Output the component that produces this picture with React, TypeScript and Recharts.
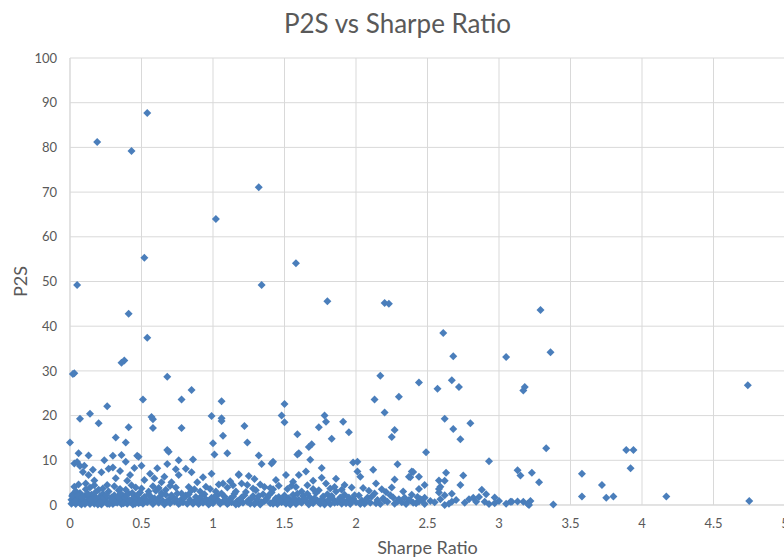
import React from 'react';
import { ScatterChart, Scatter, XAxis, YAxis, CartesianGrid } from 'recharts';

// [sharpe ratio, p2s] pairs, grouped by height band
const upperPoints: [number, number][] = [
  [0.19, 81.2], [0.43, 79.2], [0.54, 87.7], [1.02, 64.0], [1.32, 71.1], [0.05, 49.2], [0.52, 55.3],
  [1.34, 49.2], [1.58, 54.1], [1.8, 45.6], [2.2, 45.2], [2.23, 45.0], [0.41, 42.8], [0.54, 37.4],
  [0.36, 31.8], [0.38, 32.3], [0.03, 29.5], [0.02, 29.3], [0.68, 28.7], [0.85, 25.7], [2.17, 28.9],
  [3.29, 43.6], [2.61, 38.5], [2.68, 33.3], [3.05, 33.1], [3.36, 34.2], [2.44, 27.4], [2.57, 26.0],
  [2.67, 27.9], [2.72, 26.4], [3.17, 25.6], [3.18, 26.4], [4.74, 26.8],
];

const midPoints: [number, number][] = [
  [0.51, 23.6], [0.78, 23.6], [1.06, 23.2], [2.13, 23.6], [2.3, 24.2], [0.26, 22.1], [1.5, 22.6],
  [0.14, 20.4], [0.07, 19.3], [0.2, 18.3], [0.57, 19.7], [0.58, 19.2], [0.58, 17.2], [0.41, 17.4],
  [0.78, 17.2], [0.99, 19.9], [1.06, 19.4], [1.06, 18.8], [1.07, 15.5], [1.0, 13.8], [0.32, 15.1],
  [0.39, 14.0], [0.0, 14.0], [0.68, 12.3], [0.69, 11.9], [1.01, 11.3], [1.1, 11.6], [0.06, 11.6],
  [0.13, 11.1], [0.47, 11.0], [0.48, 10.8], [0.36, 11.2], [0.3, 11.0], [0.39, 9.7], [0.24, 10.0],
  [0.68, 9.2], [0.76, 10.0], [0.86, 10.2], [0.03, 9.3], [0.07, 8.7], [0.1, 8.8], [0.27, 8.1],
  [0.3, 8.4], [0.45, 8.3], [0.5, 8.8], [0.61, 8.2], [0.76, 6.7], [0.81, 8.1], [0.85, 7.3],
  [0.99, 7.0], [1.18, 6.7], [0.13, 6.7], [0.17, 5.5], [0.22, 7.3], [0.32, 6.0], [0.42, 6.7],
  [0.52, 5.6], [0.59, 6.0], [0.64, 5.1], [0.71, 5.1], [0.89, 5.1],
  [1.48, 20.0], [1.5, 18.5], [1.22, 17.7], [1.24, 14.0], [1.32, 11.1], [1.34, 9.2], [1.41, 9.3],
  [1.42, 9.7], [1.18, 6.9], [1.25, 6.5], [1.51, 6.7], [1.59, 15.8], [1.6, 11.6], [1.59, 11.3],
  [1.67, 13.0], [1.69, 13.6], [1.68, 10.1], [1.74, 17.4], [1.78, 20.0], [1.79, 18.6], [1.83, 14.8],
  [1.91, 18.6], [1.95, 16.3], [2.2, 20.7], [2.27, 16.8], [2.25, 15.2], [2.29, 9.1], [2.12, 7.9],
  [1.98, 9.5], [2.01, 9.7], [2.01, 7.5], [2.03, 6.3], [1.76, 8.3], [1.65, 7.5], [1.6, 6.7],
  [1.76, 6.1], [2.27, 5.7], [2.37, 6.3], [2.39, 7.5], [1.56, 5.2],
  [2.62, 19.3], [2.68, 17.0], [2.8, 18.3], [2.73, 14.7], [2.49, 11.8], [3.33, 12.7], [2.93, 9.8],
  [3.13, 7.8], [3.15, 6.6], [3.23, 7.2], [3.28, 5.1], [3.58, 7.0], [2.38, 6.2], [2.4, 7.4],
  [2.44, 6.3], [2.58, 5.5], [2.63, 7.2], [2.62, 5.4], [2.75, 6.6], [3.89, 12.3], [3.94, 12.3],
  [3.92, 8.2],
  [0.05, 9.6], [0.09, 7.4], [0.16, 7.9], [0.35, 7.6], [0.4, 5.4], [0.56, 7.0], [0.66, 6.3],
  [0.74, 8.0], [0.93, 6.2], [1.12, 5.3], [1.29, 5.8], [1.44, 5.6], [1.7, 5.4], [1.86, 5.9],
];

const lowPoints: [number, number][] = [
  [0.95, 4.1], [1.04, 4.6], [1.07, 4.8], [1.16, 3.0], [0.06, 4.6], [0.11, 4.8], [0.2, 3.4],
  [0.26, 4.5], [0.39, 3.4], [0.46, 3.9], [0.55, 3.0], [0.67, 3.4], [0.74, 3.9], [0.78, 2.6],
  [0.91, 3.0], [1.02, 3.0], [1.92, 4.5], [2.14, 4.8], [2.21, 2.9], [1.79, 4.8], [1.55, 4.3],
  [1.46, 4.3], [1.36, 4.0], [1.2, 4.8], [1.24, 4.5], [1.28, 3.7], [2.48, 4.5], [2.44, 3.6],
  [2.43, 1.8], [2.37, 1.1], [2.4, 0.5], [2.46, 1.1], [2.52, 0.9], [2.48, 1.6], [2.59, 4.1],
  [2.58, 3.6], [2.58, 2.8], [2.62, 2.2], [2.62, 0.0], [2.59, 1.3], [2.67, 2.5], [2.67, 0.7],
  [2.73, 4.5], [2.79, 1.3], [2.82, 1.6], [2.84, 0.7], [2.88, 3.4], [2.91, 2.4], [2.9, 0.7],
  [2.97, 1.7], [2.97, 0.4], [3.08, 0.7], [3.09, 0.7], [3.17, 0.7], [3.22, 0.9], [3.21, 0.0],
  [3.38, 0.1], [3.72, 4.5], [3.58, 1.9], [3.75, 1.6], [3.8, 1.9], [4.17, 1.9], [4.75, 0.9],
  [3.2, 0.3], [3.13, 0.8],
  [1.3, 3.3], [1.42, 3.5], [1.62, 3.0], [1.7, 3.6], [1.85, 4.0], [1.9, 3.4], [2.05, 3.8],
  [2.18, 3.5], [2.33, 3.0],
  [0.03, 4.1], [0.14, 3.9], [0.17, 4.4], [0.23, 3.7], [0.31, 4.2], [0.35, 3.6], [0.43, 4.4],
  [0.5, 3.7], [0.58, 4.2], [0.62, 3.8], [0.7, 4.3], [0.83, 4.0], [0.87, 3.5], [0.98, 3.6],
  [1.1, 3.9], [1.14, 4.4], [1.33, 4.6], [1.4, 3.8], [1.52, 3.6], [1.58, 4.0], [1.66, 4.4],
  [1.74, 3.3], [1.82, 3.7], [1.97, 3.9], [2.09, 3.2], [2.25, 3.9],
];

const bottomBand: [number, number][] = [
  [0.01, 0.3], [0.01, 1.2], [0.02, 2.4], [0.02, 0.6], [0.03, 1.8], [0.04, 0.2], [0.04, 3.1],
  [0.05, 0.9], [0.06, 1.5], [0.07, 0.4], [0.07, 2.7], [0.08, 0.1], [0.09, 1.1], [0.1, 2.0],
  [0.1, 0.5], [0.11, 3.5], [0.12, 0.8], [0.13, 1.6], [0.14, 0.2], [0.15, 2.3], [0.15, 0.7],
  [0.16, 1.3], [0.17, 0.3], [0.18, 2.9], [0.19, 1.0], [0.2, 0.4], [0.21, 1.9], [0.22, 0.1],
  [0.23, 2.5], [0.24, 0.9], [0.25, 1.4], [0.26, 0.3], [0.27, 3.0], [0.28, 0.6], [0.29, 1.7],
  [0.3, 0.2], [0.31, 2.2], [0.32, 1.0], [0.33, 0.5], [0.34, 3.3], [0.35, 1.2], [0.36, 0.2],
  [0.37, 2.0], [0.38, 0.8], [0.39, 1.5], [0.4, 0.3], [0.41, 2.6], [0.42, 0.7], [0.43, 1.2],
  [0.44, 0.1], [0.45, 2.1], [0.46, 0.9], [0.47, 1.6], [0.48, 0.4], [0.49, 2.8], [0.5, 1.1],
  [0.51, 0.3], [0.52, 1.8], [0.54, 0.6], [0.55, 2.4], [0.56, 1.0], [0.58, 0.2], [0.59, 1.5],
  [0.6, 3.2], [0.62, 0.5], [0.63, 1.9], [0.65, 0.9], [0.66, 0.1], [0.67, 2.3], [0.69, 1.2],
  [0.7, 0.4], [0.72, 1.7], [0.73, 0.8], [0.75, 2.6], [0.76, 0.2], [0.78, 1.3], [0.79, 0.6],
  [0.81, 2.1], [0.82, 0.3], [0.84, 1.1], [0.85, 3.3], [0.87, 0.7], [0.88, 1.8], [0.9, 0.2],
  [0.91, 1.4], [0.93, 0.5], [0.94, 2.4], [0.96, 0.9], [0.97, 0.1], [0.99, 1.6],
  [1.0, 0.4], [1.02, 1.2], [1.03, 2.2], [1.05, 0.3], [1.07, 0.8], [1.08, 1.9], [1.1, 0.2],
  [1.12, 1.4], [1.13, 0.6], [1.15, 2.5], [1.17, 0.9], [1.18, 0.2], [1.2, 1.7], [1.21, 0.5],
  [1.23, 2.9], [1.25, 1.1], [1.26, 0.3], [1.28, 2.0], [1.3, 0.7], [1.31, 1.3], [1.33, 0.1],
  [1.35, 2.4], [1.36, 0.9], [1.38, 1.6], [1.4, 0.4], [1.41, 2.8], [1.43, 1.0], [1.45, 0.2],
  [1.46, 1.8], [1.48, 0.6], [1.49, 1.2],
  [1.51, 0.3], [1.53, 1.5], [1.55, 0.8], [1.56, 2.3], [1.58, 0.2], [1.6, 1.1], [1.62, 0.5],
  [1.63, 2.0], [1.65, 0.9], [1.67, 0.1], [1.68, 1.6], [1.7, 0.4], [1.72, 2.7], [1.73, 1.0],
  [1.75, 0.3], [1.77, 1.9], [1.79, 0.7], [1.8, 2.4], [1.82, 0.2], [1.84, 1.3], [1.86, 3.0],
  [1.87, 0.6], [1.89, 1.7], [1.9, 0.3], [1.92, 2.3], [1.94, 1.0], [1.96, 0.2], [1.98, 1.4],
  [2.0, 0.6], [2.02, 2.1], [2.04, 1.0], [2.06, 0.3], [2.08, 1.6], [2.1, 0.5], [2.13, 2.6],
  [2.15, 1.1], [2.17, 0.2], [2.19, 1.5], [2.22, 0.7], [2.24, 2.2], [2.27, 0.3], [2.3, 1.3],
  [2.32, 0.6], [2.35, 0.2], [2.38, 1.0], [2.42, 0.4], [2.45, 1.3], [2.48, 0.2],
  [2.55, 0.6], [2.65, 0.3], [2.7, 1.1], [2.76, 0.5], [2.86, 1.8], [2.93, 0.2], [3.0, 0.9],
  [3.05, 0.3],
];

// second pass over the densest part of the band near the x axis
const bottomBandExtra: [number, number][] = [
  [0.015, 2.0], [0.035, 0.8], [0.055, 2.2], [0.085, 1.7], [0.105, 0.2], [0.125, 2.5], [0.145, 1.1],
  [0.175, 1.8], [0.195, 0.1], [0.215, 0.8], [0.235, 1.6], [0.255, 2.2], [0.275, 0.2], [0.295, 1.2],
  [0.315, 0.6], [0.335, 1.9], [0.355, 2.6], [0.375, 0.4], [0.395, 2.3], [0.415, 1.0], [0.435, 2.7],
  [0.455, 0.3], [0.475, 2.3], [0.495, 0.6], [0.53, 1.2], [0.57, 1.7], [0.61, 1.0], [0.64, 2.7],
  [0.68, 0.7], [0.71, 2.2], [0.74, 1.3], [0.77, 0.5], [0.8, 1.6], [0.83, 2.4], [0.86, 0.3],
  [0.89, 1.0], [0.92, 2.0], [0.95, 1.3], [0.98, 0.5], [1.01, 1.8], [1.04, 0.9], [1.06, 2.6],
  [1.09, 1.2], [1.11, 0.5], [1.14, 1.9], [1.16, 0.1], [1.19, 1.2], [1.22, 2.2], [1.24, 0.7],
  [1.27, 1.5], [1.29, 0.2], [1.32, 2.0], [1.34, 0.6], [1.37, 1.2], [1.39, 2.2], [1.42, 0.3],
  [1.44, 1.5], [1.47, 0.9], [1.5, 2.1], [1.52, 1.0], [1.54, 0.1], [1.57, 1.4], [1.59, 2.5],
  [1.61, 0.8], [1.64, 1.4], [1.66, 2.5], [1.69, 0.8], [1.71, 1.5], [1.74, 0.6], [1.76, 1.3],
  [1.78, 0.1], [1.81, 1.1], [1.83, 2.0], [1.85, 0.5], [1.88, 1.2], [1.91, 1.0], [1.93, 0.4],
  [1.95, 1.7], [1.97, 0.8], [1.99, 2.2], [2.03, 0.2], [2.07, 1.2], [2.11, 1.9], [2.14, 0.4],
  [2.2, 1.0], [2.26, 1.7], [2.29, 0.8], [2.34, 1.6], [2.39, 2.3], [2.44, 0.8],
];

const xTicks = [0, 0.5, 1, 1.5, 2, 2.5, 3, 3.5, 4, 4.5, 5];
const yTicks = [0, 10, 20, 30, 40, 50, 60, 70, 80, 90, 100];

const data = [...upperPoints, ...midPoints, ...lowPoints, ...bottomBand, ...bottomBandExtra].map(([x, y]) => ({ x, y }));

const textColor = '#595959';
const gridColor = '#d9d9d9';
const font = 'Lato, "Open Sans", sans-serif';

// Excel style square diamond marker
const Diamond = (props: any) => {
  const { cx, cy, fill } = props;
  const r = 4;
  return <path d={`M${cx},${cy - r}L${cx + r},${cy}L${cx},${cy + r}L${cx - r},${cy}Z`} fill={fill} />;
};

const App = () => {
  return (
    <div style={{ position: 'absolute', left: 0, top: 0, width: 784, height: 558, overflow: 'hidden', background: '#fff', fontFamily: font }}>
      <div
        style={{
          position: 'absolute', left: 0, top: 10, width: 795, textAlign: 'center',
          fontSize: 26, lineHeight: '26px', color: textColor,
        }}
      >
        P2S vs Sharpe Ratio
      </div>
      <ScatterChart width={800} height={558} margin={{ top: 58, right: 15, bottom: 3, left: 0 }}>
        <CartesianGrid stroke={gridColor} />
        <XAxis
          type="number"
          dataKey="x"
          domain={[0, 5]}
          ticks={xTicks}
          interval={0}
          height={50}
          tickLine={false}
          tickMargin={8}
          axisLine={{ stroke: gridColor }}
          tick={{ fill: textColor, fontSize: 13, fontFamily: font }}
          label={{ value: 'Sharpe Ratio', position: 'insideBottom', offset: 1, fill: textColor, fontSize: 18, fontFamily: font }}
        />
        <YAxis
          type="number"
          dataKey="y"
          domain={[0, 100]}
          ticks={yTicks}
          interval={0}
          width={70}
          tickLine={false}
          tickMargin={7}
          axisLine={{ stroke: gridColor }}
          tick={{ fill: textColor, fontSize: 13, fontFamily: font }}
          label={{
            content: ({ viewBox }: any) => {
              const cx = viewBox.x + 20;
              const cy = viewBox.y + viewBox.height / 2;
              return (
                <text x={cx} y={cy} transform={`rotate(-90, ${cx}, ${cy})`} textAnchor="middle" dominantBaseline="central"
                  fill={textColor} fontSize={18} fontFamily={font}>
                  P2S
                </text>
              );
            },
          }}
        />
        <Scatter data={data} fill="#4a7ebb" shape={<Diamond />} isAnimationActive={false} />
      </ScatterChart>
    </div>
  );
};

export default App;
